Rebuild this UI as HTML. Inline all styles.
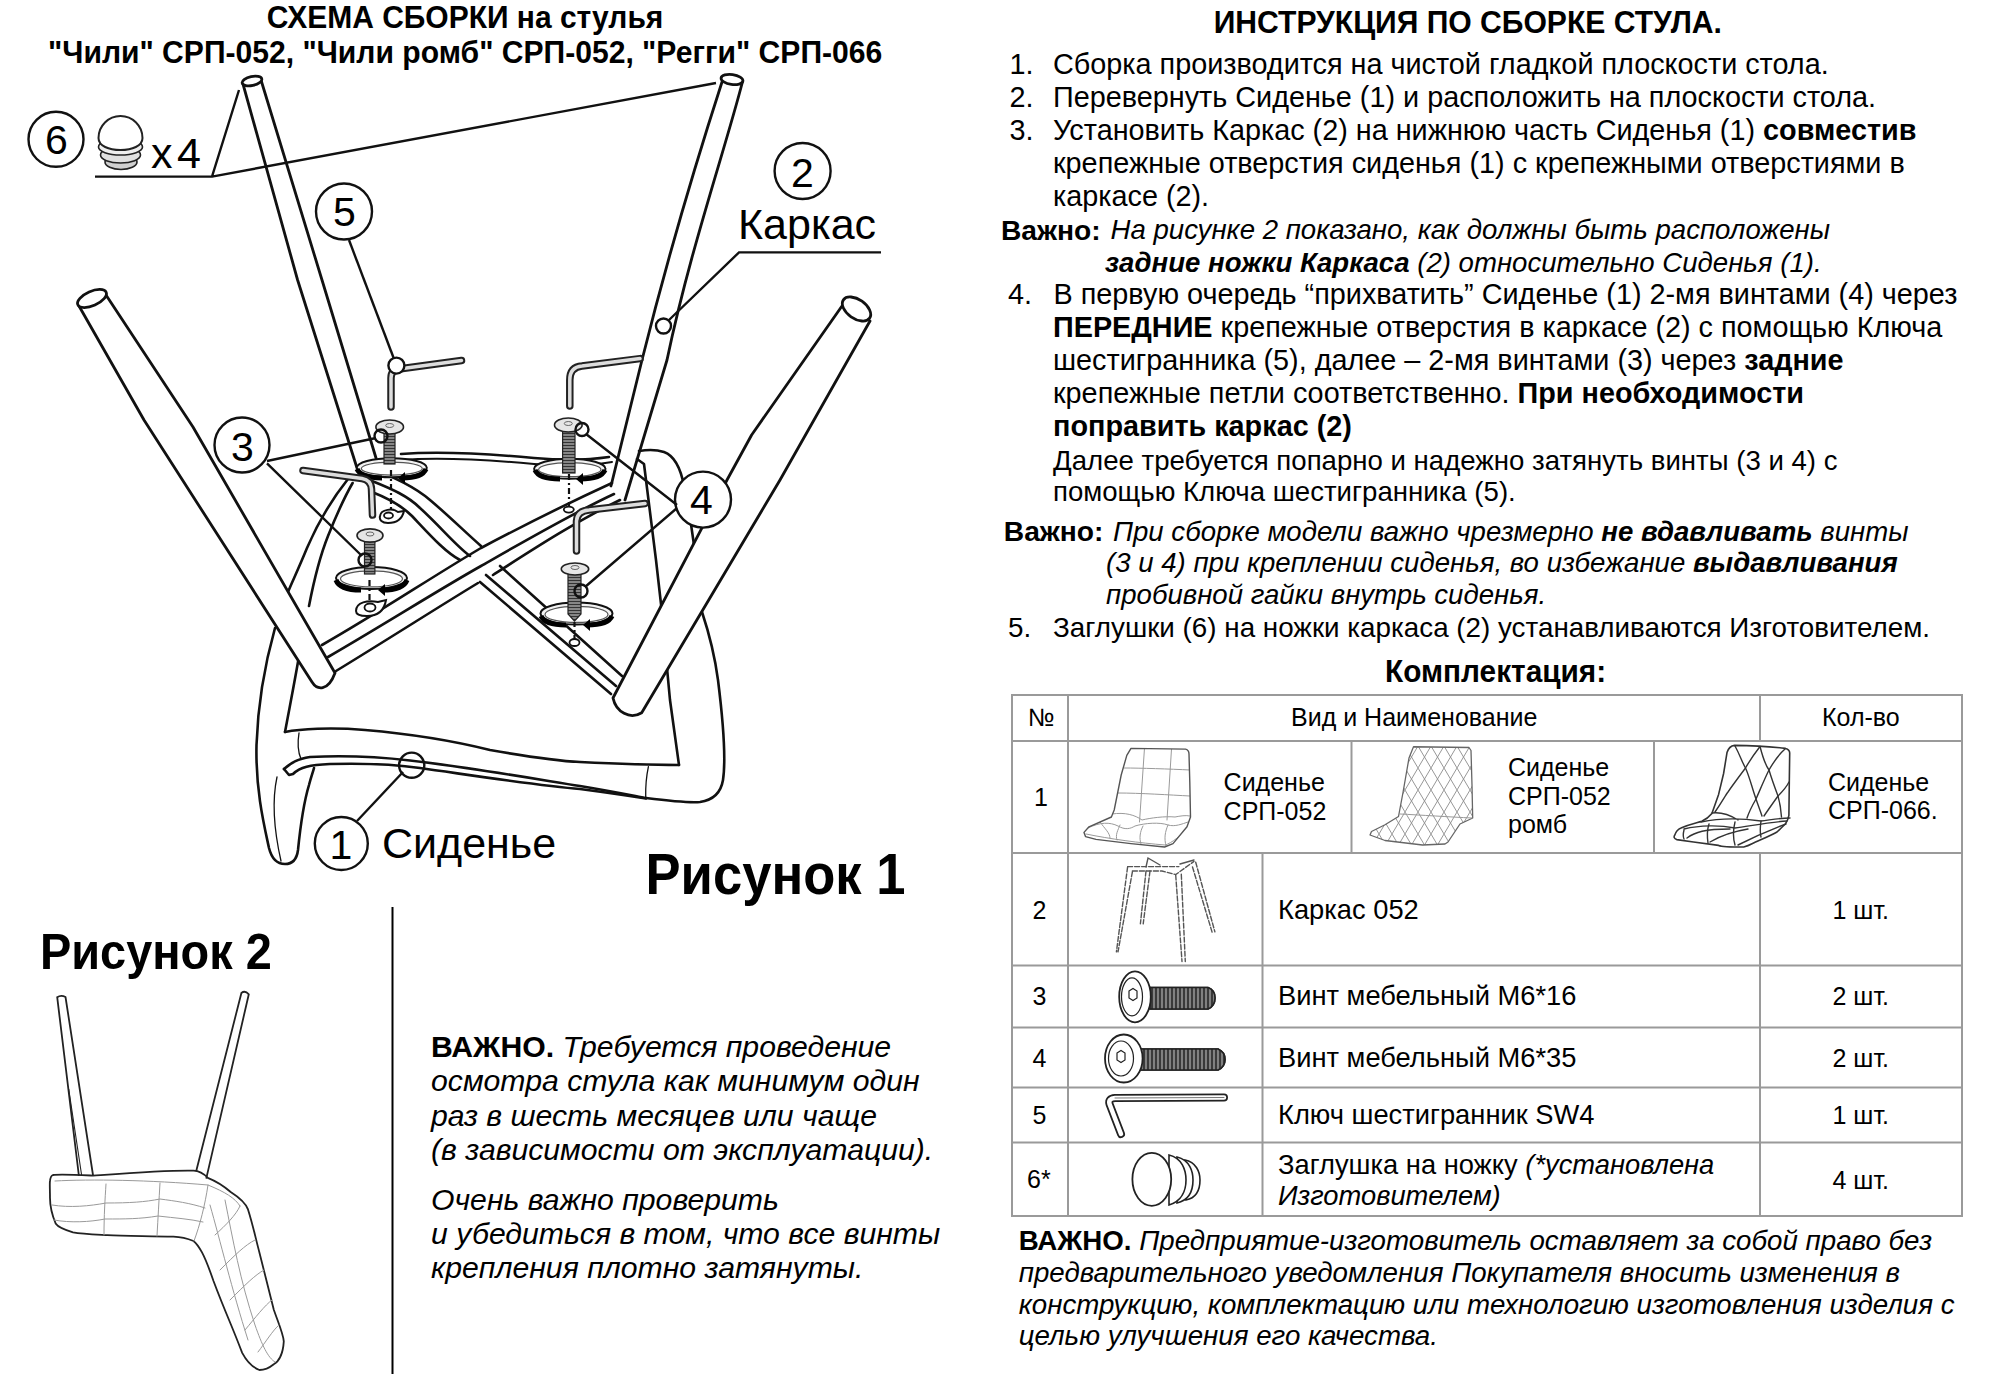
<!DOCTYPE html>
<html><head><meta charset="utf-8">
<style>
html,body{margin:0;padding:0;background:#fff;}
svg{display:block;}
text{font-family:"Liberation Sans",sans-serif;fill:#000;}
.b{font-weight:bold;}
.i{font-style:italic;}
.t26{font-size:26px;}
</style></head><body>
<svg id="pg" width="2000" height="1374" viewBox="0 0 2000 1374">
<rect width="2000" height="1374" fill="#fff"/>

<!-- LEFT TITLE -->
<g transform="translate(0 27.6) scale(1 1.07) translate(0 -27.6)"><text class="b" x="266.7" y="27.6" font-size="30">СХЕМА СБОРКИ на стулья</text></g>
<g transform="translate(0 62.6) scale(1 1.065) translate(0 -62.6)"><text class="b" x="48" y="62.6" font-size="30.1">"Чили" СРП-052, "Чили ромб" СРП-052, "Регги" СРП-066</text></g>

<!-- RIGHT TITLE -->
<g transform="translate(0 33) scale(1 1.07) translate(0 -33)"><text class="b" x="1213.7" y="33" font-size="30.1">ИНСТРУКЦИЯ ПО СБОРКЕ СТУЛА.</text></g>

<g font-size="28.8">
<text x="1009.5" y="73.5">1.</text><text x="1053" y="73.5">Сборка производится на чистой гладкой плоскости стола.</text>
<text x="1009.5" y="106.5">2.</text><text x="1053" y="106.5">Перевернуть Сиденье (1) и расположить на плоскости стола.</text>
<text x="1009.5" y="139.5">3.</text><text x="1053" y="139.5">Установить Каркас (2) на нижнюю часть Сиденья (1) <tspan class="b">совместив</tspan></text>
<text x="1053" y="172.5">крепежные отверстия сиденья (1) с крепежными отверстиями в</text>
<text x="1053" y="206">каркасе (2).</text>
<text x="1001" y="239.5" class="b" font-size="28.2">Важно:</text><text x="1110.5" y="239" class="i" font-size="27.6">На рисунке 2 показано, как должны быть расположены</text>
<text x="1105" y="271.5" class="i" font-size="27.6"><tspan class="b">задние ножки Каркаса</tspan> (2) относительно Сиденья (1).</text>
<text x="1008" y="303.5">4.</text><text x="1053.5" y="303.5">В первую очередь “прихватить” Сиденье (1) 2-мя винтами (4) через</text>
<text x="1053" y="337"><tspan class="b">ПЕРЕДНИЕ</tspan> крепежные отверстия в каркасе (2) с помощью Ключа</text>
<text x="1053" y="370">шестигранника (5), далее – 2-мя винтами (3) через <tspan class="b">задние</tspan></text>
<text x="1053" y="403">крепежные петли соответственно. <tspan class="b">При необходимости</tspan></text>
<text x="1053" y="436" class="b">поправить каркас (2)</text>
<text x="1053" y="469.5" font-size="27.6">Далее требуется попарно и надежно затянуть винты (3 и 4) с</text>
<text x="1053" y="500.5" font-size="27.6">помощью Ключа шестигранника (5).</text>
<text x="1003.8" y="541" class="b" font-size="28.2">Важно:</text><text x="1113" y="540.6" class="i" font-size="27.6">При сборке модели важно чрезмерно <tspan class="b">не вдавливать</tspan> винты</text>
<text x="1106" y="572" class="i" font-size="27.6">(3 и 4) при креплении сиденья, во избежание <tspan class="b">выдавливания</tspan></text>
<text x="1106" y="603.5" class="i" font-size="27.6">пробивной гайки внутрь сиденья.</text>
<text x="1008" y="637" font-size="27.8">5.</text><text x="1053" y="637" font-size="27.8">Заглушки (6) на ножки каркаса (2) устанавливаются Изготовителем.</text>
<g transform="translate(0 681.6) scale(1 1.05) translate(0 -681.6)"><text x="1385" y="681.6" class="b" font-size="29.8">Комплектация:</text></g>
</g>

<!-- TABLE -->
<g stroke="#9a9a9a" stroke-width="2" fill="none">
<rect x="1012" y="695" width="950" height="521"/>
<line x1="1068" y1="695" x2="1068" y2="1216"/>
<line x1="1760" y1="695" x2="1760" y2="741"/>
<line x1="1760" y1="853" x2="1760" y2="1216"/>
<line x1="1351.5" y1="741" x2="1351.5" y2="853"/>
<line x1="1654" y1="741" x2="1654" y2="853"/>
<line x1="1262.5" y1="853" x2="1262.5" y2="1216"/>
<line x1="1012" y1="741" x2="1962" y2="741"/>
<line x1="1012" y1="853" x2="1962" y2="853"/>
<line x1="1012" y1="965.5" x2="1962" y2="965.5"/>
<line x1="1012" y1="1027.5" x2="1962" y2="1027.5"/>
<line x1="1012" y1="1087.5" x2="1962" y2="1087.5"/>
<line x1="1012" y1="1142.5" x2="1962" y2="1142.5"/>
</g>
<g font-size="25">
<text x="1028" y="726">№</text>
<text x="1291" y="726">Вид и Наименование</text>
<text x="1822" y="726">Кол-во</text>
<text x="1034" y="806">1</text>
<text x="1223.6" y="791">Сиденье</text><text x="1223.6" y="819.6">СРП-052</text>
<text x="1508" y="776.4">Сиденье</text><text x="1508" y="805">СРП-052</text><text x="1508" y="833">ромб</text>
<text x="1828" y="790.6">Сиденье</text><text x="1828" y="819.4">СРП-066.</text>
<text x="1032.6" y="918.5">2</text>
<text x="1278" y="918.5" font-size="27.3">Каркас 052</text>
<text x="1832.5" y="918.5">1 шт.</text>
<text x="1032.6" y="1005">3</text>
<text x="1278" y="1005" font-size="27.3">Винт мебельный М6*16</text>
<text x="1832.5" y="1005">2 шт.</text>
<text x="1032.6" y="1067">4</text>
<text x="1278" y="1067" font-size="27.3">Винт мебельный М6*35</text>
<text x="1832.5" y="1067">2 шт.</text>
<text x="1032.6" y="1124">5</text>
<text x="1278" y="1124" font-size="27.3">Ключ шестигранник SW4</text>
<text x="1832.5" y="1124">1 шт.</text>
<text x="1027" y="1188">6*</text>
<text x="1278" y="1174" font-size="27.3">Заглушка на ножку <tspan class="i">(*установлена</tspan></text>
<text x="1278" y="1205" class="i" font-size="27.3">Изготовителем)</text>
<text x="1832.5" y="1189">4 шт.</text>
</g>

<!-- TABLE IMAGES -->
<defs>
<clipPath id="c1"><path d="M1131,748.4 L1185.6,749.1 Q1189,750 1189,754 L1189.8,782 L1190.5,817 L1187,826.8 L1173,843.6 L1164.6,847 L1131,843.6 L1096,839.4 L1085.5,836.6 L1084,832.4 L1089,826.8 L1111.4,817 L1114.2,810 L1121.2,775 L1126.8,755.4 Z"/></clipPath>
<clipPath id="c2"><path d="M1413.5,746.75 L1469,747.5 L1471,750.5 L1472,785 L1472.7,818 L1460,824 L1448,842 L1445,844 L1422.5,845 L1385,840.5 L1370,835 L1371.5,831.5 L1385,824.75 L1398.5,816.5 L1403,792.5 L1409,758 Z"/></clipPath>
<pattern id="dia2" width="13" height="22" patternUnits="userSpaceOnUse" patternTransform="translate(1405,746)">
<path d="M0,0 L13,22 M13,0 L0,22" stroke="#8a8a8a" stroke-width="0.9" fill="none"/>
</pattern>
</defs>
<!-- chair 1 -->
<g fill="none" stroke-linecap="round" stroke-linejoin="round">
<g clip-path="url(#c1)" stroke="#9a9a9a" stroke-width="1">
<path d="M1144.5,748 L1139.5,822"/><path d="M1171.5,749 L1167,820"/>
<path d="M1124,768 C1140,768 1170,769 1190,770"/>
<path d="M1118,793 C1140,793 1170,795 1190,796"/>
<path d="M1112,814 C1125,812 1135,815 1142,820 C1150,818 1165,816 1175,817 C1180,816 1186,815 1190,816"/>
<path d="M1088,828 C1100,822 1110,822 1118,826 C1125,830 1130,829 1135,826 C1145,823 1160,822 1168,825 C1175,827 1182,824 1188,822"/>
<path d="M1100,822 C1105,829 1110,833 1110,838 M1120,825 C1118,830 1115,835 1117,840 M1143,826 C1140,832 1139,838 1141,844 M1168,825 C1165,832 1164,838 1166,846"/>
<path d="M1086,834 C1110,839 1140,843 1165,845 C1172,843 1180,836 1188,828"/>
</g>
<path d="M1131,748.4 L1185.6,749.1 Q1189,750 1189,754 L1189.8,782 L1190.5,817 L1187,826.8 L1173,843.6 L1164.6,847 L1131,843.6 L1096,839.4 L1085.5,836.6 L1084,832.4 L1089,826.8 L1111.4,817 L1114.2,810 L1121.2,775 L1126.8,755.4 Z" stroke="#555" stroke-width="1.4"/>
</g>
<!-- chair 2 -->
<g fill="none" stroke-linecap="round" stroke-linejoin="round">
<rect x="1365" y="745" width="110" height="102" fill="url(#dia2)" clip-path="url(#c2)" stroke="none"/>
<path d="M1413.5,746.75 L1469,747.5 L1471,750.5 L1472,785 L1472.7,818 L1460,824 L1448,842 L1445,844 L1422.5,845 L1385,840.5 L1370,835 L1371.5,831.5 L1385,824.75 L1398.5,816.5 L1403,792.5 L1409,758 Z" stroke="#666" stroke-width="1.3"/>
<path d="M1400,814 C1420,815 1450,817 1472,818" stroke="#999" stroke-width="1"/>
</g>
<!-- chair 3 -->
<g fill="none" stroke="#333" stroke-width="1.4" stroke-linecap="round" stroke-linejoin="round">
<path d="M1734.5,745.4 C1750,745.5 1770,746.5 1785.5,748.4 Q1789.7,749.5 1789.7,753 L1789.3,781.8 L1788.9,815.3 Q1788,820 1785.5,823.7 L1777,832 C1770,836 1760,840 1752,843.8 Q1748,846 1743.7,847 C1730,847 1720,846 1718.6,845.4 L1693.5,842 L1676.7,839.6 Q1673,838 1674.6,835.4 C1676,831 1678,829 1681,827.9 C1690,824 1696,823 1701.8,821.2 C1707,819 1710,816 1711.9,813.6 L1718.6,794.4 L1723.6,773.5 L1727,752.6 Q1729,746 1734.5,745.4 Z" stroke-width="1.6"/>
<path d="M1735,746 C1740,755 1742,762 1745.5,768 C1750,778 1752,788 1756,799 C1758,805 1760,810 1762,816"/>
<path d="M1760,746.5 C1763,758 1766,766 1769,770 C1772,780 1775,788 1778,796 C1780,803 1781,810 1781.5,817"/>
<path d="M1760,746.5 C1755,753 1750,760 1745.5,768 C1738,778 1732,786 1728,792 C1725,796 1722,802 1715,812"/>
<path d="M1785,749 C1777,756 1773,763 1769,770 C1764,780 1760,790 1756,799 C1752,806 1749,812 1747,818"/>
<path d="M1789,782 C1786,788 1782,792 1778,796 C1773,803 1768,810 1764,816"/>
<path d="M1712,813 C1720,812 1730,815 1738,820 M1701,822 C1720,818 1740,818 1761,821 C1770,820 1780,818 1790,818"/>
<path d="M1684,829 C1700,825 1720,825 1735,828 C1750,826 1770,822 1787,821"/>
<path d="M1684,830 C1683,834 1683,837 1684,839 M1709,824 C1707,830 1707,836 1708,843 M1735,822 C1733,830 1733,838 1735,845 M1761,821 C1760,828 1760,833 1761,837"/>
<path d="M1687,838 C1695,832 1705,829 1730,829 M1710,842 C1720,836 1730,832 1748,829 M1738,845 C1750,839 1765,832 1786,824"/>
</g>
<!-- row 2 frame -->
<g fill="none" stroke="#555" stroke-width="1.4" stroke-dasharray="5 2" stroke-linecap="round">
<path d="M1127.6,866.6 L1178.9,866.6 M1132.4,871 L1162,871 L1175.7,874.6 L1194,861.4"/>
<path d="M1127.6,867 L1116.4,951.9 M1132.4,871.8 L1118,951.9"/>
<path d="M1146,871 L1140.4,923.8 M1150,871 L1143.2,923.8"/>
<path d="M1175.7,875 L1182,961.5 M1181.3,874.2 L1185.3,961.5"/>
<path d="M1192.5,867 L1212.5,933.5 M1195.7,862.2 L1214.9,931.9"/>
<path d="M1146,867 L1148,858 L1160,865 M1180,864 L1194,860" stroke-dasharray="none"/>
</g>
<!-- row 3 screw M6*16 -->
<g stroke="#222" stroke-width="1.6">
<path d="M1150,987.5 L1208,987.5 Q1215,990 1215,998 Q1215,1006 1208,1009 L1150,1009 Z" fill="#555"/>
<path d="M1150,987.5 L1208,987.5 Q1215,990 1215,998 Q1215,1006 1208,1009 L1150,1009 Z" fill="url(#thrv)"/>
<ellipse cx="1135" cy="996.8" rx="15.8" ry="25.5" fill="#fff" stroke-width="1.8"/>
<ellipse cx="1132" cy="996.8" rx="10.5" ry="19" fill="none" stroke-width="1.2"/>
<path d="M1129,991 L1133,988.5 L1137,991 L1137,998 L1133,1000.5 L1129,998 Z" fill="none" stroke-width="1.2"/>
</g>
<!-- row 4 screw M6*35 -->
<g stroke="#222" stroke-width="1.6">
<path d="M1140,1049 L1218,1049 Q1225,1052 1225,1059.5 Q1225,1067 1218,1070 L1140,1070 Z" fill="#555"/>
<path d="M1140,1049 L1218,1049 Q1225,1052 1225,1059.5 Q1225,1067 1218,1070 L1140,1070 Z" fill="url(#thrv)"/>
<ellipse cx="1123.8" cy="1058.5" rx="18.8" ry="24" fill="#fff" stroke-width="1.8"/>
<ellipse cx="1121" cy="1058.5" rx="12.5" ry="17.5" fill="none" stroke-width="1.2"/>
<path d="M1117,1053 L1121,1050.5 L1125,1053 L1125,1060 L1121,1062.5 L1117,1060 Z" fill="none" stroke-width="1.2"/>
</g>
<!-- row 5 key -->
<g fill="none" stroke-linecap="round" stroke-linejoin="round">
<path d="M1224,1097.5 L1115,1098 Q1108,1098.5 1109.5,1104 L1121,1134" stroke="#222" stroke-width="8"/>
<path d="M1224,1097.5 L1115,1098 Q1108,1098.5 1109.5,1104 L1121,1134" stroke="#fff" stroke-width="4.5"/>
<path d="M1224,1097.5 L1115,1098" stroke="#777" stroke-width="1"/>
</g>
<!-- row 6 cap -->
<g stroke="#222" stroke-width="1.6" fill="#fff">
<path d="M1185,1160 C1196,1162 1200,1172 1200,1180 C1200,1190 1196,1198 1186,1200 Z"/>
<path d="M1177,1157 C1190,1160 1193,1172 1193,1180 C1193,1190 1190,1200 1177,1203 Z"/>
<path d="M1169,1155 C1182,1158 1186,1170 1186,1180 C1186,1190 1182,1201 1169,1205 Z"/>
<ellipse cx="1151.8" cy="1179.3" rx="19.4" ry="26.5" stroke-width="1.8"/>
</g>
<defs>
<pattern id="thrv" width="4" height="4" patternUnits="userSpaceOnUse">
<rect width="4" height="4" fill="#3a3a3a"/><line x1="2" y1="0" x2="2" y2="4" stroke="#bbb" stroke-width="1.1"/>
</pattern>
</defs>

<!-- FIGURE 2 -->
<g fill="none" stroke="#222" stroke-width="1.8" stroke-linecap="round" stroke-linejoin="round">
<path d="M57.2,997.2 Q61,994.5 65.5,997 L93,1175 M57.2,997.2 L78.8,1175"/>
<path d="M68.7,1089 L81.6,1175" stroke-width="1.1"/>
<path d="M241.4,993 Q245,990 248.8,994.3 L206.4,1177.9 M241.4,993 L196.3,1170.7"/>
<path d="M53,1175 C60,1174 80,1175 93,1175.6 C130,1173 170,1170 193.5,1170.7 C200,1171 205,1175 207.8,1177.9 C218,1182 226,1188 230.7,1192 C240,1198 246,1204 248,1209.4 C253,1225 256,1240 259.4,1252.4 C265,1275 270,1295 273.8,1309.8 C278,1322 283,1333 283.8,1341.3 C283,1355 278,1362 273.8,1364.3 C268,1369 263,1370 259.4,1370 C252,1367 246,1360 242.2,1352.8 C238,1342 234,1332 230.7,1324 C224,1308 218,1293 213.5,1281 C209,1268 205,1258 202,1252.4 C199,1247 196,1243 193.5,1241 C186,1238 180,1237 173.4,1236.7 C150,1236 125,1236 107.4,1235.2 C95,1234.5 82,1234 73,1232.4 C65,1230 58,1227 55.8,1223.8 C52,1215 50,1205 50,1198 C50,1190 49.5,1183 50,1180.7 C50.5,1177 51.5,1175.5 53,1175 Z"/>
</g>
<g fill="none" stroke="#9a9a9a" stroke-width="1" stroke-linecap="round">
<path d="M55,1181 C90,1179 150,1180 208,1185 C225,1192 235,1198 240,1206"/>
<path d="M52,1205 C70,1208 90,1206 106,1203 C130,1203 145,1202 160,1199 C175,1201 190,1203 205,1208"/>
<path d="M54,1220 C70,1223 90,1222 105,1219 C125,1219 140,1219 158,1216 C175,1218 190,1219 203,1222"/>
<path d="M106,1184 C105,1200 104,1215 104,1235 M160,1183 C159,1200 158,1218 157,1236 M208,1185 C205,1205 200,1225 194,1241"/>
<path d="M240,1206 C236,1215 226,1225 215,1235 M255,1240 C245,1245 235,1255 220,1270 M264,1270 C255,1275 245,1285 230,1300 M272,1300 C265,1305 255,1318 245,1330 M279,1325 C273,1330 265,1343 258,1352"/>
<path d="M225,1200 C233,1240 240,1280 255,1325 C262,1345 268,1358 275,1362"/>
<path d="M210,1205 C220,1240 232,1290 248,1340"/>
</g>

<!-- BOTTOM RIGHT NOTE -->
<g font-size="27.7">
<text x="1018.7" y="1249.5"><tspan class="b">ВАЖНО.</tspan> <tspan class="i">Предприятие-изготовитель оставляет за собой право без</tspan></text>
<text x="1018.7" y="1281.7" class="i">предварительного уведомления Покупателя вносить изменения в</text>
<text x="1018.7" y="1313.5" class="i">конструкцию, комплектацию или технологию изготовления изделия с</text>
<text x="1018.7" y="1344.7" class="i">целью улучшения его качества.</text>
</g>

<!-- BOTTOM LEFT NOTE -->
<g font-size="30.2">
<text x="431" y="1056.7"><tspan class="b">ВАЖНО.</tspan> <tspan class="i">Требуется проведение</tspan></text>
<text x="431" y="1091.3" class="i">осмотра стула как минимум один</text>
<text x="431" y="1125.6" class="i">раз в шесть месяцев или чаще</text>
<text x="431" y="1160.2" class="i">(в зависимости от эксплуатации).</text>
<text x="431" y="1209.5" class="i">Очень важно проверить</text>
<text x="431" y="1244.2" class="i">и убедиться в том, что все винты</text>
<text x="431" y="1278.4" class="i">крепления плотно затянуты.</text>
</g>
<line x1="392.5" y1="907" x2="392.5" y2="1374" stroke="#000" stroke-width="2"/>

<!-- FIGURE LABELS -->
<g transform="translate(0 894) scale(1 1.085) translate(0 -894)"><text class="b" x="645.5" y="894" font-size="52.6">Рисунок 1</text></g>
<g transform="translate(0 969.2) scale(1 1.05) translate(0 -969.2)"><text class="b" x="40" y="969.2" font-size="46.9">Рисунок 2</text></g>
<text x="738" y="239" font-size="43">Каркас</text>
<text x="382" y="857.5" font-size="43">Сиденье</text>

<!-- DRAWINGS -->
<!-- FIGURE 1 -->
<g fill="none" stroke="#111" stroke-width="2.6" stroke-linecap="round" stroke-linejoin="round">
<!-- seat outer left contour -->
<path d="M348,479 C336,494 320,518 307,548 C298,570 292,582 288,592"/>
<path d="M275,628 C266,660 258,700 256.5,745 C255.5,790 264,825 269,848 C272,860 278,864 285,864 C293,864 297,858 298,850 C300,830 303,805 309,785 C311,777 313,772 314,768"/>
<!-- panel left edge -->
<path d="M352.6,483 C344,498 336,516 328,536 C320,556 314,580 309,606"/>
<path d="M300,650 C296,675 290,705 285,732"/>
<!-- panel bottom edge & right edge -->
<path d="M285,732 C300,729 330,727 365,730 C400,733 450,740 490,750 C530,757 560,761 580,762 C620,764 650,765 679,765"/>
<!-- rim lines -->
<path d="M284,769 C292,762 298,759 310,757 C350,755 380,757 410,760.5 C460,766 530,778 580,786 C610,791 630,795 646,798"/>
<path d="M284,769 L289,775 L293,774 C300,767 310,765 330,764 C370,763 400,765 420,768 C470,775 540,786 580,789 C610,793 630,796 646,798.5"/>
<path d="M646,798 C670,801 688,803 700,802 C714,800 721,792 723,780 C726,760 723,720 718,680 C714,650 708,630 702,612"/>
<path d="M648.4,766.6 C646,778 645.5,788 645.7,797" stroke-width="1.3"/>
<path d="M299,733 C297,745 298,752 301,759" stroke-width="1.3"/>
<path d="M277,777 C272,800 274,830 281,861" stroke-width="1.3"/>
<!-- seat right side behind RR leg -->
<path d="M639,451 C645,450 655,449 664,452 C675,456 681,470 684,486 C688,505 692,530 694,545"/>
<path d="M637,459 L644,464 L656,560 L661,604 L670,700 L679,765"/>
<!-- seat top edge (far) -->
<path d="M401,454 C440,451 480,453 534,458 C570,461 595,459 609,457"/>
<path d="M401,460 C440,457 480,459 534,464 C570,467 595,465 612,462" stroke-width="2"/>
<!-- right outer contour continuation -->
</g>

<!-- LEGS -->
<g fill="#fff" stroke="#111" stroke-width="2.8" stroke-linecap="round" stroke-linejoin="round">
<!-- RL leg -->
<path d="M243,84 L297.6,280 L357,468 M376,458 L322,280 L261,80" fill="none"/>
<ellipse cx="252" cy="81" rx="10" ry="4.5" transform="rotate(-12 252 81)"/>
<!-- RR leg -->
<path d="M722,82 C700,150 672,240 642,360 L611,486 M742.7,81 C725,150 690,250 667,360 L625,500" fill="none"/>
<ellipse cx="732" cy="79.5" rx="11" ry="5" transform="rotate(8 732 79.5)"/>
</g>

<!-- CROSS BARS -->
<g fill="none" stroke="#111" stroke-width="2.6" stroke-linecap="round" stroke-linejoin="round">
<!-- bar 1: front-left end up-right to RR leg -->
<path d="M322,645 C380,612 430,578 481,548 C530,522 575,500 612,483"/>
<path d="M328,657 C385,624 435,592 481,566 C530,538 575,512 614,494"/>
<path d="M336,671 C390,638 440,606 478,583"/>
<path d="M493,575 C535,548 575,522 620,500"/>
<!-- bar 2: RL leg down-right to FR leg end -->
<path d="M372,468 C395,478 415,487 430,500 C448,515 465,532 481,546"/>
<path d="M500,566 L622,676"/>
<path d="M372,481 C392,489 408,496 420,508 C440,526 455,545 470,556"/>
<path d="M486,575 L616,686"/>
<path d="M372,492 C390,499 402,506 412,516 C430,535 445,552 460,560"/>
<path d="M480,582 L611,694"/>
</g>

<g fill="#fff" stroke="#111" stroke-width="2.8" stroke-linecap="round" stroke-linejoin="round">
<!-- FL leg -->
<path d="M79,306 L144,420 L312,682 C317,690 328,692 335,673 L193,427 L106,295"/>
<ellipse cx="92" cy="298.5" rx="15.5" ry="7.2" transform="rotate(-24 92 298.5)"/>
<!-- FR leg -->
<path d="M842,306 L751.6,435 L727,480 L613,698 C616,712 630,720 641.7,712.7 L780,480 L870,321"/>
<ellipse cx="856.5" cy="309" rx="16" ry="9.5" transform="rotate(35 856.5 309)"/>
</g>

<!-- SCREWS / WASHERS / KEYS -->
<defs>
<pattern id="thr" width="3" height="3" patternUnits="userSpaceOnUse">
<rect width="3" height="3" fill="#9a9a9a"/><line x1="0" y1="1.5" x2="3" y2="1.5" stroke="#333" stroke-width="1.4"/>
</pattern>
</defs>
<g id="screwA">
<!-- washer A -->
<ellipse cx="391.8" cy="467.8" rx="35" ry="9.5" fill="#f2f2f2" stroke="#111" stroke-width="2"/>
<ellipse cx="391.8" cy="468.6" rx="30.5" ry="6.5" fill="#fff" stroke="#555" stroke-width="1.2"/>
<path d="M357,469 C360,476 372,478 382,478" fill="none" stroke="#000" stroke-width="5"/>
<path d="M426,469 C423,476 412,478 402,478" fill="none" stroke="#000" stroke-width="5"/>
<path d="M398,478 L405,472 L405,484 Z" fill="#000"/>
<line x1="391" y1="470" x2="391" y2="512" stroke="#111" stroke-width="2.2" stroke-dasharray="6 3 2 3"/>
<path d="M380,516 C381,509 393,508 398,512 L404,511 C402,520 396,523 388,523 C382,523 379,520 380,516 Z" fill="#fff" stroke="#111" stroke-width="2"/>
<ellipse cx="388.5" cy="515.5" rx="4.5" ry="3" fill="none" stroke="#111" stroke-width="1.8"/>
<rect x="384" y="433" width="11" height="31" fill="url(#thr)" stroke="#222" stroke-width="1.2"/>
<ellipse cx="389.7" cy="427" rx="13.8" ry="7" fill="#e6e6e6" stroke="#222" stroke-width="1.6"/>
<ellipse cx="389.7" cy="425.5" rx="4" ry="2" fill="none" stroke="#666" stroke-width="1"/>
</g>
<g id="screwB">
<ellipse cx="569.8" cy="468.8" rx="35.7" ry="10" fill="#f2f2f2" stroke="#111" stroke-width="2"/>
<ellipse cx="569.8" cy="469.6" rx="31.2" ry="7.0" fill="#fff" stroke="#555" stroke-width="1.2"/>
<path d="M535,470 C538,477 550,479 560,479" fill="none" stroke="#000" stroke-width="5"/>
<path d="M605,470 C602,477 590,479 580,479" fill="none" stroke="#000" stroke-width="5"/>
<path d="M576,479 L583,473 L583,485 Z" fill="#000"/>
<line x1="569" y1="474" x2="569" y2="506" stroke="#111" stroke-width="2.2" stroke-dasharray="6 3 2 3"/>
<ellipse cx="568.8" cy="509.6" rx="5" ry="3" fill="none" stroke="#111" stroke-width="1.8"/>
<rect x="562.6" y="431" width="12.4" height="42" fill="url(#thr)" stroke="#222" stroke-width="1.2"/>
<ellipse cx="568.3" cy="425" rx="13.8" ry="7" fill="#e6e6e6" stroke="#222" stroke-width="1.6"/>
<ellipse cx="568.3" cy="423.5" rx="4" ry="2" fill="none" stroke="#666" stroke-width="1"/>
</g>
<g id="screwC">
<ellipse cx="371.5" cy="578" rx="35.5" ry="11" fill="#f2f2f2" stroke="#111" stroke-width="2"/>
<ellipse cx="371.5" cy="578.8" rx="31.0" ry="8.0" fill="#fff" stroke="#555" stroke-width="1.2"/>
<path d="M336,580 C339,588 351,590 361,590" fill="none" stroke="#000" stroke-width="5"/>
<path d="M407,580 C404,588 392,590 382,590" fill="none" stroke="#000" stroke-width="5"/>
<path d="M378,590 L385,584 L385,596 Z" fill="#000"/>
<line x1="369.5" y1="580" x2="369.5" y2="603" stroke="#111" stroke-width="2.2" stroke-dasharray="6 3 2 3"/>
<path d="M356,611 C356,602 368,600 378,602 L386,600 C384,612 376,616 367,616 C361,616 356,615 356,611 Z" fill="#fff" stroke="#111" stroke-width="2"/>
<ellipse cx="370" cy="607.5" rx="5.5" ry="4" fill="none" stroke="#111" stroke-width="1.8"/>
<rect x="364.5" y="541" width="10.4" height="33" fill="url(#thr)" stroke="#222" stroke-width="1.2"/>
<ellipse cx="370" cy="535.5" rx="13" ry="6.6" fill="#e6e6e6" stroke="#222" stroke-width="1.6"/>
<ellipse cx="370" cy="534" rx="4" ry="2" fill="none" stroke="#666" stroke-width="1"/>
</g>
<g id="screwD">
<ellipse cx="576.5" cy="613.6" rx="36" ry="11" fill="#f2f2f2" stroke="#111" stroke-width="2"/>
<ellipse cx="576.5" cy="614.4" rx="31.5" ry="8.0" fill="#fff" stroke="#555" stroke-width="1.2"/>
<path d="M541,616 C544,623 556,625 566,625" fill="none" stroke="#000" stroke-width="5"/>
<path d="M612,616 C609,623 597,625 587,625" fill="none" stroke="#000" stroke-width="5"/>
<path d="M583,625 L590,619 L590,631 Z" fill="#000"/>
<line x1="574.5" y1="622" x2="574.5" y2="639" stroke="#111" stroke-width="2.2" stroke-dasharray="5 3 2 3"/>
<ellipse cx="574.5" cy="642.5" rx="5" ry="3.5" fill="none" stroke="#111" stroke-width="1.8"/>
<path d="M568,574 L568,614 L574.5,621 L581,614 L581,574 Z" fill="url(#thr)" stroke="#222" stroke-width="1.2"/>
<ellipse cx="575" cy="569" rx="13.7" ry="6" fill="#e6e6e6" stroke="#222" stroke-width="1.6"/>
<ellipse cx="575" cy="567.5" rx="4" ry="2" fill="none" stroke="#666" stroke-width="1"/>
</g>
<!-- hex keys: drawn as thick dark stroke + lighter inner -->
<g fill="none" stroke-linecap="round" stroke-linejoin="round">
<path d="M391,407 L391,378 Q391,370 399,369 L461.5,360.5" stroke="#222" stroke-width="7.5"/>
<path d="M391,407 L391,378 Q391,370 399,369 L461.5,360.5" stroke="#ddd" stroke-width="3.5"/>
<path d="M569.8,406 L569.8,380 Q569.8,367 582,366 L640,358.6" stroke="#222" stroke-width="7.5"/>
<path d="M569.8,406 L569.8,380 Q569.8,367 582,366 L640,358.6" stroke="#ddd" stroke-width="3.5"/>
<path d="M303,470.5 L362,478.5 Q371,480 371.5,489 L372.5,515" stroke="#222" stroke-width="7.5"/>
<path d="M303,470.5 L362,478.5 Q371,480 371.5,489 L372.5,515" stroke="#ddd" stroke-width="3.5"/>
<path d="M576.5,551 L576.5,521 Q577,511 589,510 L645,503.5" stroke="#222" stroke-width="7.5"/>
<path d="M576.5,551 L576.5,521 Q577,511 589,510 L645,503.5" stroke="#ddd" stroke-width="3.5"/>
</g>
<!-- cap icon (6) -->
<g stroke="#222" stroke-width="1.6">
<ellipse cx="121" cy="162" rx="16" ry="7.5" fill="#d0d0d0"/>
<ellipse cx="120.5" cy="155" rx="20" ry="8" fill="#e0e0e0"/>
<ellipse cx="120.5" cy="147" rx="22" ry="8" fill="#eee"/>
<path d="M98.5,138 A22,22 0 0 1 142.5,138 C142.5,146 132,150 120.5,150 C109,150 98.5,146 98.5,138 Z" fill="#fff" stroke-width="2"/>
</g>

<!-- LABELS -->
<g fill="none" stroke="#111" stroke-width="2.4">
<circle cx="56" cy="139.3" r="27.5" fill="#fff"/>
<circle cx="344" cy="211.5" r="28" fill="#fff"/>
<circle cx="802.6" cy="171" r="28" fill="#fff"/>
<circle cx="242" cy="445" r="27.5" fill="#fff"/>
<circle cx="703" cy="499.6" r="28" fill="#fff"/>
<circle cx="341.3" cy="843.5" r="26.5" fill="#fff"/>
<path d="M95,176.6 L212,176.6 L239,90 M212,176.6 L716,83"/>
<path d="M349,240 L394,359"/>
<circle cx="396.4" cy="365.6" r="8" fill="#fff"/>
<path d="M881,252.4 L739,252.4 L669,320"/>
<circle cx="663.5" cy="326" r="7.5" fill="#fff"/>
<path d="M267,461 L376,438 M267,463.4 L362,556"/>
<circle cx="381" cy="436" r="6.5"/>
<circle cx="365" cy="560" r="6.5"/>
<path d="M677,505 L586,434 M677,508 L585,587"/>
<circle cx="582" cy="429.5" r="6.5"/>
<circle cx="581" cy="591" r="6.5"/>
<path d="M357,821 L403,772"/>
<circle cx="411.7" cy="765.2" r="12.6"/>
</g>
<g font-size="41" text-anchor="middle">
<text x="56.5" y="154">6</text>
<text x="344.5" y="226">5</text>
<text x="802.5" y="187">2</text>
<text x="242.5" y="461">3</text>
<text x="701.5" y="514">4</text>
<text x="341" y="859">1</text>
</g>
<text x="151" y="168" font-size="43">x</text><text x="177" y="168" font-size="43">4</text>

</svg>
</body></html>
